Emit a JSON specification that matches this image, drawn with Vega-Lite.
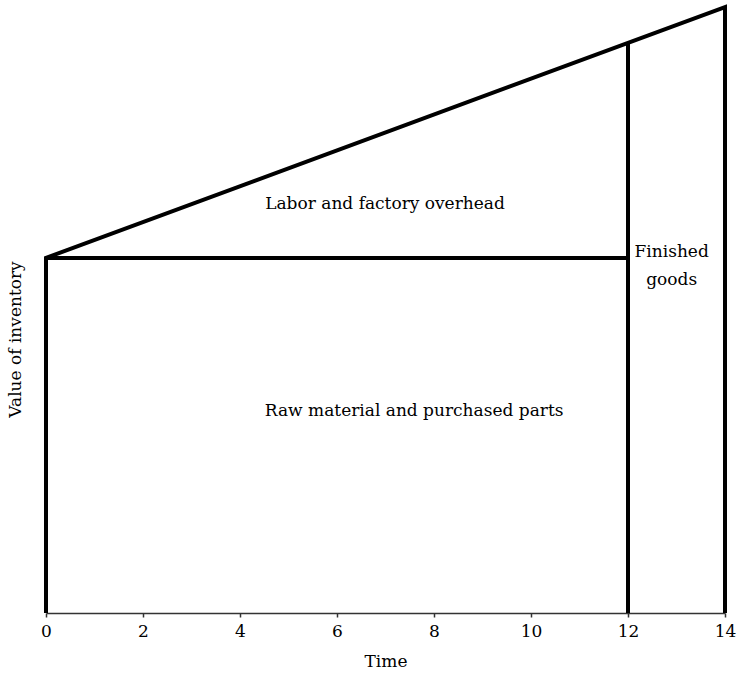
{
  "$schema": "https://vega.github.io/schema/vega-lite/v6.json",
  "autosize": "none",
  "padding": {"left": 46, "top": 7, "right": 14, "bottom": 60},
  "width": 679,
  "height": 606,
  "config": {
    "view": {"stroke": null},
    "font": "DejaVu Serif",
    "text": {"font": "DejaVu Serif", "fontSize": 17, "color": "#000"}
  },
  "datasets": {
    "lines": [
      {"segment": "base", "order": 1, "t": 0, "v": 0},
      {"segment": "base", "order": 2, "t": 0, "v": 58.6},
      {"segment": "base", "order": 3, "t": 14, "v": 100},
      {"segment": "base", "order": 4, "t": 14, "v": 0},
      {"segment": "mid", "order": 1, "t": 0, "v": 58.6},
      {"segment": "mid", "order": 2, "t": 12, "v": 58.6},
      {"segment": "v12", "order": 1, "t": 12, "v": 0},
      {"segment": "v12", "order": 2, "t": 12, "v": 94.1}
    ],
    "labels": [
      {"label": "Labor and factory overhead", "t": 6.99, "v": 67.5},
      {"label": "Raw material and purchased parts", "t": 7.59, "v": 33.3},
      {"label": "Finished", "t": 12.9, "v": 59.6},
      {"label": "goods", "t": 12.9, "v": 55.0}
    ]
  },
  "layer": [
    {
      "data": {"name": "lines"},
      "mark": {"type": "line", "stroke": "#000", "strokeWidth": 4, "strokeJoin": "miter", "strokeCap": "butt"},
      "encoding": {
        "x": {
          "field": "t", "type": "quantitative",
          "scale": {"domain": [0, 14], "nice": false, "zero": false},
          "axis": {
            "title": "Time", "values": [0, 2, 4, 6, 8, 10, 12, 14],
            "grid": false, "domainColor": "#333", "domainWidth": 1.5,
            "tickColor": "#333", "tickSize": 4, "tickWidth": 1.5,
            "labelFlush": false, "labelOverlap": false,
            "labelFont": "DejaVu Serif", "labelFontSize": 17, "labelColor": "#000", "labelPadding": 6,
            "titleFont": "DejaVu Serif", "titleFontSize": 17, "titleFontWeight": "normal", "titleColor": "#000", "titlePadding": 14
          }
        },
        "y": {
          "field": "v", "type": "quantitative",
          "scale": {"domain": [0, 100], "nice": false},
          "axis": {
            "title": "Value of inventory", "domain": false, "ticks": false, "labels": false, "grid": false,
            "titleFont": "DejaVu Serif", "titleFontSize": 17, "titleFontWeight": "normal", "titleColor": "#000",
            "titleX": -22, "titleY": 332, "titleAngle": -90, "titleAlign": "center", "titleBaseline": "bottom"
          }
        },
        "detail": {"field": "segment"},
        "order": {"field": "order", "type": "quantitative"}
      }
    },
    {
      "data": {"name": "labels"},
      "mark": {"type": "text", "align": "center", "baseline": "middle"},
      "encoding": {
        "x": {"field": "t", "type": "quantitative"},
        "y": {"field": "v", "type": "quantitative"},
        "text": {"field": "label"}
      }
    }
  ]
}
